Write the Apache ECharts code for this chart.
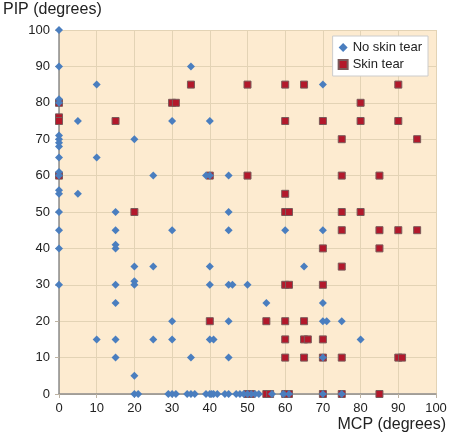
<!DOCTYPE html>
<html>
<head>
<meta charset="utf-8">
<script src="https://cdn.jsdelivr.net/npm/echarts@6/dist/echarts.min.js"></script>
<style>html,body{margin:0;padding:0;background:#fff}#c{width:450px;height:435px}</style>
</head>
<body>
<div id="c"></div>
<script>
const xTicks = [0,10,20,30,40,50,60,70,80,90,100];
const yTicks = [0,10,20,30,40,50,60,70,80,90,100];
const seriesNames = ['No skin tear','Skin tear'];

const noSkinTear = [
  [0,100],[0,90],[0,81],[0,80],[0,71],[0,70],[0,69],[0,68],[0,65],[0,61],[0,60],[0,56],[0,55],[0,50],[0,45],[0,40],[0,30],
  [5,75],[5,55],
  [10,85],[10,65],[10,15],
  [15,50],[15,45],[15,41],[15,40],[15,30],[15,25],[15,15],[15,10],
  [20,70],[20,35],[20,31],[20,30],[20,5],[20,0],[21,0],
  [25,60],[25,35],[25,15],
  [30,75],[30,45],[30,20],[30,15],[29,0],[30,0],[31,0],
  [35,90],[35,10],[34,0],[35,0],[36,0],
  [40,75],[39,60],[40,60],[40,35],[40,30],[40,15],[41,15],[39,0],[40,0],[40.5,0],[41,0],[42,0],
  [45,60],[45,50],[45,45],[45,30],[46,30],[45,20],[45,10],[44,0],[45,0],
  [50,30],[47,0],[48,0],[49,0],[50,0],[51,0],[52,0],[53,0],
  [55,25],[56.5,0],
  [60,45],[59.5,0],[61,0],
  [65,35],
  [70,85],[70,45],[70,25],[70,20],[71,20],[70,10],[70,0],
  [75,20],[75,0],
  [80,15]
];

const skinTear = [
  [0,80],[0,76],[0,75],[0,60],
  [15,75],
  [20,50],
  [30,80],[31,80],
  [35,85],
  [40,60],[40,20],
  [50,85],[50,60],[50,0],[51,0],
  [55,20],[55,0],[56,0],
  [60,85],[60,75],[60,55],[60,50],[61,50],[60,30],[61,30],[60,20],[60,15],[60,10],[60,0],[61,0],
  [65,85],[65,20],[65,15],[66,15],[65,10],
  [70,75],[70,40],[70,30],[70,15],[70,10],[70,0],
  [75,70],[75,60],[75,50],[75,45],[75,35],[75,10],[75,0],
  [80,80],[80,75],[80,50],
  [85,60],[85,45],[85,40],[85,0],
  [90,85],[90,75],[90,45],[90,10],[91,10],
  [95,70],[95,45]
];

const font = 'Liberation Sans, Arial, Helvetica, sans-serif';
const chart = echarts.init(document.getElementById('c'), null, {renderer:'canvas'});
chart.setOption({
  animation: false,
  backgroundColor: '#ffffff',
  textStyle: {fontFamily: font},
  grid: {
    left: 31, right: 14, top: 30, bottom: 41,
    show: true, backgroundColor: '#fdebd0', borderWidth: 0
  },
  legend: {
    orient: 'vertical',
    right: 22, top: 36,
    data: [
      {name: seriesNames[0], icon: 'diamond'},
      {name: seriesNames[1], icon: 'rect'}
    ],
    backgroundColor: '#ffffff',
    borderColor: '#cccccc', borderWidth: 1, borderRadius: 0,
    padding: [5, 6, 5, 5],
    itemGap: 4, itemWidth: 9, itemHeight: 9,
    textStyle: {fontSize: 13, color: '#222', fontFamily: font}
  },
  xAxis: {
    type: 'value', min: 0, max: 100, interval: 10,
    name: 'MCP (degrees)', nameLocation: 'end', nameGap: 10,
    nameTextStyle: {fontSize: 16, color: '#222', align: 'right', verticalAlign: 'top', padding: [23,0,0,0], fontFamily: font},
    axisLine: {show: true, lineStyle: {color: '#8c8c8c', width: 1.5}},
    axisTick: {show: true, length: 4, lineStyle: {color: '#bdb3a3'}},
    axisLabel: {fontSize: 13, color: '#222', margin: 8, fontFamily: font,
      formatter: v => xTicks.includes(v) ? String(v) : ''},
    splitLine: {show: true, lineStyle: {color: '#e3d3b5', width: 1}}
  },
  yAxis: {
    type: 'value', min: 0, max: 100, interval: 10,
    name: 'PIP (degrees)', nameLocation: 'end', nameGap: 12,
    nameTextStyle: {fontSize: 16, color: '#222', align: 'left', padding: [0,0,0,-56], fontFamily: font},
    axisLine: {show: true, lineStyle: {color: '#8c8c8c', width: 1.5}},
    axisTick: {show: true, length: 4, lineStyle: {color: '#bdb3a3'}},
    axisLabel: {fontSize: 13, color: '#222', margin: 9, fontFamily: font,
      formatter: v => yTicks.includes(v) ? String(v) : ''},
    splitLine: {show: true, lineStyle: {color: '#e3d3b5', width: 1}}
  },
  series: [
    {
      name: seriesNames[1], type: 'scatter', data: skinTear, z: 2,
      symbol: 'rect', symbolSize: 7,
      itemStyle: {color: '#b3182b', borderColor: '#7a5a5a', borderWidth: 1, opacity: 1}
    },
    {
      name: seriesNames[0], type: 'scatter', data: noSkinTear, z: 3,
      symbol: 'diamond', symbolSize: 8,
      itemStyle: {color: '#4a7ebf', opacity: 1}
    }
  ]
});
</script>
</body>
</html>
